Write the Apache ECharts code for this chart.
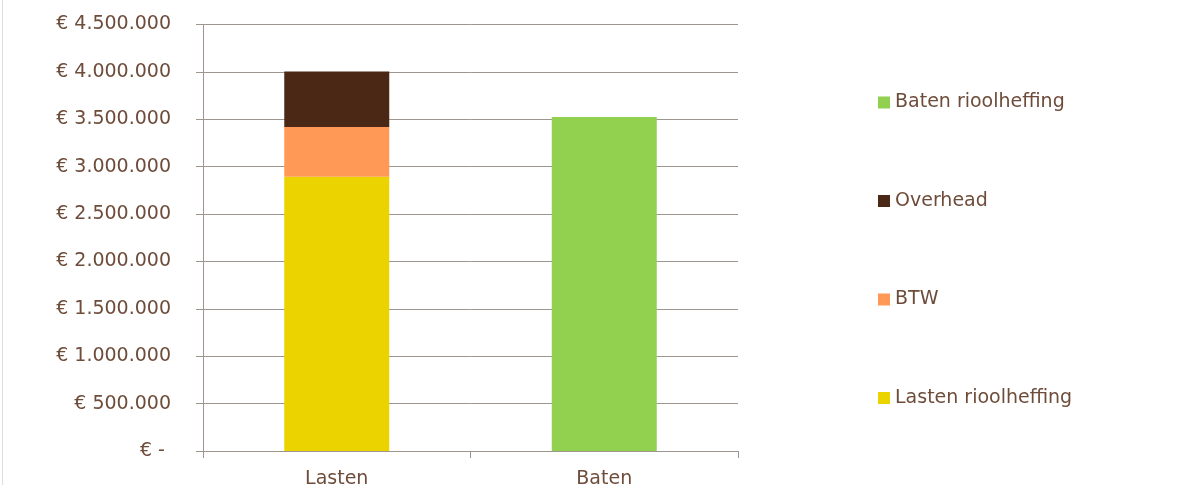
<!DOCTYPE html>
<html>
<head>
<meta charset="utf-8">
<script src="https://cdn.jsdelivr.net/npm/echarts@6/dist/echarts.min.js"></script>
<style>
html,body{margin:0;padding:0;background:#fff;}
#c{width:1184px;height:485px;}
</style>
</head>
<body>
<div id="c"></div>
<script>
var categories = ['Lasten', 'Baten'];
var lastenRioolheffing = [2894000, null];
var btw = [524000, null];
var overhead = [585000, null];
var batenRioolheffing = [null, 3524000];
var legendOrder = ['Baten rioolheffing', 'Overhead', 'BTW', 'Lasten rioolheffing'];
var yMin = 0, yMax = 4500000, yStep = 500000;

var textColor = '#6e4c3a';
var lineColor = '#9e958f';
var font = 'DejaVu Sans';

function fmt(v) {
  if (v === 0) return '€ - ';
  var s = String(Math.round(v));
  s = s.replace(/\B(?=(\d{3})+(?!\d))/g, '.');
  return '€ ' + s;
}

var chart = echarts.init(document.getElementById('c'), null, {renderer: 'canvas'});
chart.setOption({
  backgroundColor: '#ffffff',
  animation: false,
  textStyle: {fontFamily: font},
  grid: {left: 203, right: 446, top: 24.5, bottom: 34, containLabel: false, outerBoundsMode: 'none'},
  legend: {
    orient: 'vertical',
    left: 878,
    top: 93,
    padding: 0,
    itemWidth: 12,
    itemHeight: 12,
    itemGap: 79.5,
    icon: 'rect',
    data: legendOrder,
    textStyle: {color: textColor, fontSize: 19, fontFamily: font}
  },
  xAxis: {
    type: 'category',
    data: categories,
    boundaryGap: true,
    axisLine: {lineStyle: {color: lineColor, width: 1}},
    axisTick: {show: true, length: 7, lineStyle: {color: lineColor}},
    axisLabel: {color: textColor, fontSize: 19, fontFamily: font, margin: 19}
  },
  yAxis: {
    type: 'value',
    min: yMin, max: yMax, interval: yStep,
    axisLine: {show: true, lineStyle: {color: lineColor, width: 1}},
    axisTick: {show: true, length: 7, lineStyle: {color: lineColor}},
    splitLine: {lineStyle: {color: lineColor, width: 1}},
    axisLabel: {color: textColor, fontSize: 19, fontFamily: font, margin: 32, formatter: fmt}
  },
  series: [
    {name: 'Lasten rioolheffing', type: 'bar', stack: 'a', data: lastenRioolheffing, barWidth: 105, itemStyle: {color: '#ebd300'}},
    {name: 'BTW', type: 'bar', stack: 'a', data: btw, barWidth: 105, itemStyle: {color: '#ff9955'}},
    {name: 'Overhead', type: 'bar', stack: 'a', data: overhead, barWidth: 105, itemStyle: {color: '#4b2815'}},
    {name: 'Baten rioolheffing', type: 'bar', stack: 'a', data: batenRioolheffing, barWidth: 105, itemStyle: {color: '#92d050'}}
  ],
  graphic: [
    {type: 'line', shape: {x1: 2.5, y1: 0, x2: 2.5, y2: 485}, style: {stroke: '#dddddd', lineWidth: 1}, silent: true}
  ]
});
</script>
</body>
</html>
